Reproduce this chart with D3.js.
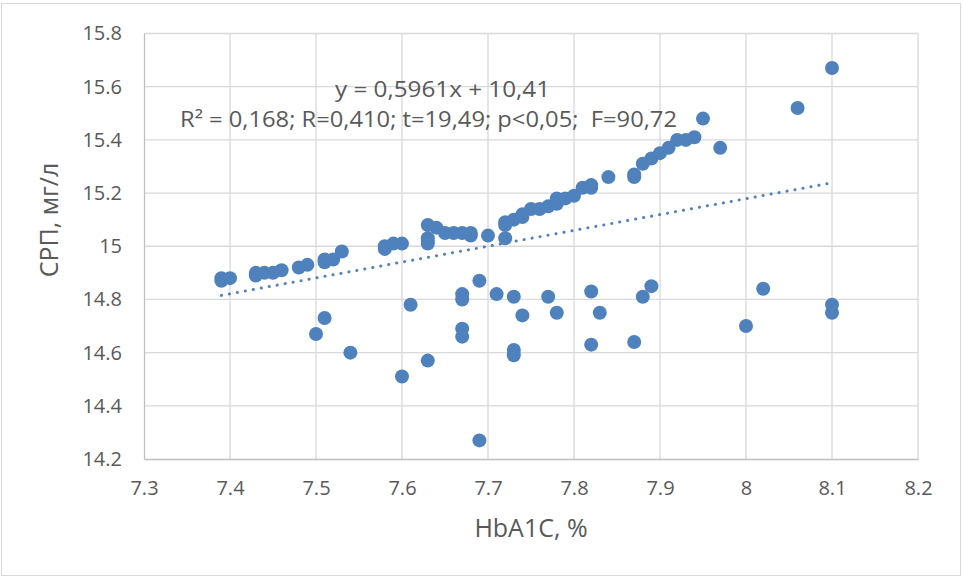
<!DOCTYPE html>
<html>
<head>
<meta charset="utf-8">
<script src="https://cdn.jsdelivr.net/npm/d3@7/dist/d3.min.js"></script>
<style>
  html, body { margin: 0; padding: 0; background: #fff; }
  svg { display: block; font-family: "Open Sans", "Noto Sans", sans-serif; }
  .keep-spaces { white-space: pre; }
</style>
</head>
<body>
<svg id="chart" width="963" height="578"></svg>
<script>
// HbA1C (%) per patient
const hba1c = [
  7.39, 7.39, 7.40, 7.43, 7.43, 7.44, 7.45, 7.46, 7.48, 7.49,
  7.51, 7.51, 7.52, 7.53, 7.58, 7.58, 7.59, 7.60, 7.63, 7.63,
  7.63, 7.63, 7.64, 7.65, 7.66, 7.67, 7.68, 7.68, 7.70, 7.72,
  7.72, 7.72, 7.73, 7.74, 7.74, 7.75, 7.76, 7.77, 7.78, 7.78,
  7.79, 7.80, 7.81, 7.82, 7.82, 7.84, 7.87, 7.87, 7.88, 7.89,
  7.90, 7.91, 7.92, 7.93, 7.94, 7.95, 7.97, 8.06, 8.10,
  7.50, 7.51, 7.54, 7.60, 7.61, 7.63, 7.67, 7.67, 7.67, 7.67,
  7.69, 7.69, 7.71, 7.73, 7.73, 7.73, 7.74, 7.77, 7.78, 7.82,
  7.83, 7.82, 7.87, 7.88, 7.89, 8.00, 8.02, 8.10, 8.10
];
// СРП (мг/л) for the same patients
const crp = [
  14.88, 14.87, 14.88, 14.89, 14.90, 14.90, 14.90, 14.91, 14.92, 14.93,
  14.95, 14.94, 14.95, 14.98, 14.99, 15.00, 15.01, 15.01, 15.08, 15.03,
  15.02, 15.01, 15.07, 15.05, 15.05, 15.05, 15.04, 15.05, 15.04, 15.09,
  15.08, 15.03, 15.10, 15.12, 15.11, 15.14, 15.14, 15.15, 15.16, 15.18,
  15.18, 15.19, 15.22, 15.23, 15.22, 15.26, 15.27, 15.26, 15.31, 15.33,
  15.35, 15.37, 15.40, 15.40, 15.41, 15.48, 15.37, 15.52, 15.67,
  14.67, 14.73, 14.60, 14.51, 14.78, 14.57, 14.82, 14.80, 14.69, 14.66,
  14.87, 14.27, 14.82, 14.81, 14.61, 14.59, 14.74, 14.81, 14.75, 14.83,
  14.75, 14.63, 14.64, 14.81, 14.85, 14.70, 14.84, 14.78, 14.75
];

const xTicks = [7.3, 7.4, 7.5, 7.6, 7.7, 7.8, 7.9, 8.0, 8.1, 8.2];
const yTicks = [14.2, 14.4, 14.6, 14.8, 15.0, 15.2, 15.4, 15.6, 15.8];

// linear trend y = slope * x + intercept
const slope = 0.5961, intercept = 10.41;
const trendRange = [7.39, 8.10];

const equationText = "y = 0,5961x + 10,41";
const statsText = "R\u00B2 = 0,168; R=0,410; t=19,49; p<0,05;  F=90,72";
const xTitle = "HbA1C, %";
const yTitle = "СРП, мг/л";

const svg = d3.select("#chart");
const W = 963, H = 578;
const plot = { left: 144, right: 918, top: 33.5, bottom: 459 };

const x = d3.scaleLinear().domain([7.3, 8.2]).range([plot.left, plot.right]);
const y = d3.scaleLinear().domain([14.2, 15.8]).range([plot.bottom, plot.top]);

const textColor = "#595959";
const dotColor = "#4f81bd";

// chart frame
svg.append("rect")
  .attr("x", 1.5).attr("y", 3.5).attr("width", W - 4).attr("height", H - 6)
  .attr("fill", "#fff").attr("stroke", "#d9d9d9").attr("stroke-width", 1);

// gridlines
const grid = svg.append("g");
grid.selectAll("line.h").data(yTicks.slice(1)).join("line")
  .attr("x1", plot.left).attr("x2", plot.right)
  .attr("y1", d => y(d)).attr("y2", d => y(d))
  .attr("stroke", "#d9d9d9").attr("stroke-width", 1.3);
grid.selectAll("line.v").data(xTicks.slice(1)).join("line")
  .attr("y1", plot.top).attr("y2", plot.bottom)
  .attr("x1", d => x(d)).attr("x2", d => x(d))
  .attr("stroke", "#d9d9d9").attr("stroke-width", 1.3);

// axes
const fmt = d => String(+d.toFixed(1));
const xAxis = d3.axisBottom(x).tickValues(xTicks).tickSize(0).tickPadding(22).tickFormat(fmt);
const yAxis = d3.axisLeft(y).tickValues(yTicks).tickSize(0).tickPadding(22).tickFormat(fmt);

const gx = svg.append("g").attr("transform", `translate(0,${plot.bottom})`).call(xAxis);
const gy = svg.append("g").attr("transform", `translate(${plot.left},0)`).call(yAxis);
[gx, gy].forEach(g => {
  g.select(".domain").attr("stroke", "#bfbfbf").attr("stroke-width", 1.3);
  g.selectAll("text").attr("fill", textColor).attr("font-size", 20)
    .attr("font-family", "'Open Sans', sans-serif");
});
gx.selectAll("text").attr("dy", "0.68em");

// trend line
svg.append("line")
  .attr("x1", x(trendRange[0])).attr("y1", y(slope * trendRange[0] + intercept))
  .attr("x2", x(trendRange[1])).attr("y2", y(slope * trendRange[1] + intercept))
  .attr("stroke", dotColor).attr("stroke-width", 3)
  .attr("stroke-linecap", "round").attr("stroke-dasharray", "0.1 8");

// points
const pts = hba1c.map((v, i) => ({ x: v, y: crp[i] }));
svg.append("g").selectAll("circle").data(pts).join("circle")
  .attr("cx", d => x(d.x)).attr("cy", d => y(d.y)).attr("r", 7)
  .attr("fill", dotColor);

// equation labels
svg.append("text").attr("x", 335).attr("y", 97)
  .attr("fill", textColor).attr("font-size", 21)
  .attr("textLength", 215).attr("lengthAdjust", "spacingAndGlyphs")
  .text(equationText);
svg.append("text").attr("class", "keep-spaces").attr("x", 180).attr("y", 127)
  .attr("fill", textColor).attr("font-size", 21)
  .attr("textLength", 497).attr("lengthAdjust", "spacingAndGlyphs")
  .text(statsText);

// axis titles
svg.append("text").attr("x", 531).attr("y", 537)
  .attr("text-anchor", "middle").attr("fill", textColor).attr("font-size", 25)
  .text(xTitle);
svg.append("text").attr("transform", "translate(58,220) rotate(-90)")
  .attr("text-anchor", "middle").attr("fill", textColor).attr("font-size", 25)
  .text(yTitle);
</script>
</body>
</html>
